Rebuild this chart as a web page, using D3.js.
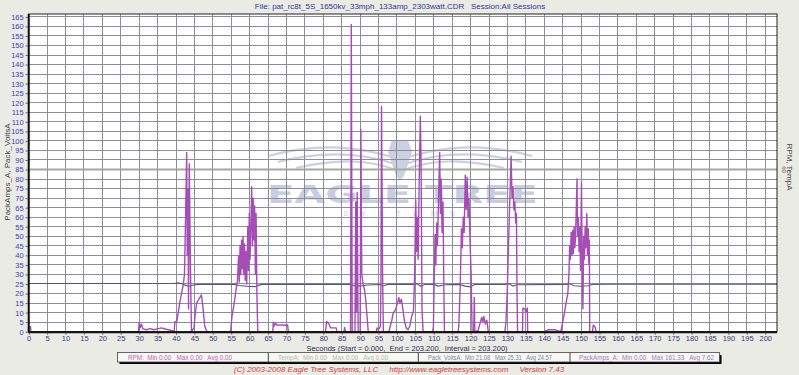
<!DOCTYPE html>
<html><head><meta charset="utf-8">
<script src="https://cdn.jsdelivr.net/npm/d3@7"></script>
<style>body{margin:0;background:#ebebe5;}svg{display:block;}text{font-family:"Liberation Sans",Arial,sans-serif;}</style>
</head><body>
<script>
// ---------- DATA ----------
const titleText = "File: pat_rc8t_5S_1650kv_33mph_133amp_2303watt.CDR   Session:All Sessions";
const xTicks = d3.range(0, 201, 5);
const yTicks = d3.range(0, 166, 5);
const rightTicks = ["60"];
const rightTickAt = [85];
// PackAmps_A : [seconds, amps]
const packAmps = [
 [0,0],[0.1,2.6],[0.5,2.6],[0.6,0],[29.8,0],[30,4.7],[30.3,2],[30.6,4],[31,1.5],[32,1],[33,1.6],[34,1],[35,1.5],[36,2],[37,1.4],[38,1],[39,0.5],[39.5,0],
 [39.7,5.2],[40.2,5],[40.6,10],[41,15],[41.5,20],[42,25],[42.3,30],[42.6,60],[42.9,94],[43.05,40],[43.25,75],[43.4,12],[43.6,88],[43.8,55],[43.95,30],[44.2,0],
 [44.9,2],[45.2,9],[45.6,15],[46.2,17],[46.9,19.3],[47.3,13],[47.8,3],[48.4,0],
 [54.8,0],[55.2,8],[55.8,15],[56.3,22],[56.7,27],[57,40],[57.2,26],[57.4,45],[57.6,30],[57.8,48],[58,33],[58.2,50],[58.4,30],[58.6,46],[58.8,27],[59,42],[59.2,25],[59.5,55],[59.7,32],[59.9,62],[60.1,38],[60.35,57],[60.55,76],[60.75,45],[60.95,70],[61.15,48],[61.35,66],[61.55,30],[61.75,62],[61.95,22],[62.2,0],
 [66.3,0],[66.4,5],[66.7,3],[67,4.5],[67.5,3.4],[68.5,3.6],[69.5,3.4],[70.3,3.5],[70.5,0],
 [80.6,0],[80.9,5.4],[81.5,4],[82,2],[83.5,2],[83.7,0],
 [85.6,0],[85.8,2.2],[86,0],[87.4,0],[87.6,161],[87.85,0],[88.6,0],[88.8,68],[89,10],[89.2,73],[89.45,0],[90,0],[90.2,106],[90.45,30],[90.8,25],[91.2,22],[91.5,17],[91.8,10],[92.2,0],
 [94.4,0],[94.6,2],[95,1],[95.5,3],[95.65,25],[95.8,118],[95.95,78],[96.1,30],[96.3,0],
 [97.8,0],[98.2,3],[98.6,6],[99,10],[99.5,11],[100,14],[100.5,18],[100.8,15],[101.2,17],[101.6,12],[102,6],[102.5,2],[103,1],[103.5,3],[104,8],[104.5,11],[104.8,30],[105.1,69],[105.3,42],[105.5,60],[105.75,38],[106.05,80],[106.35,113],[106.55,90],[106.8,12],[107.1,0],
 [109.7,0],[109.9,3],[110.1,26],[110.35,51],[110.55,35],[110.8,57],[111,45],[111.3,70],[111.6,94],[111.8,62],[112,80],[112.25,52],[112.5,68],[112.75,20],[112.9,0],
 [116.6,0],[116.8,3],[117.2,25],[117.5,54],[117.75,44],[118,60],[118.25,52],[118.55,82],[118.8,64],[119.05,81],[119.3,60],[119.55,70],[119.85,47],[120.15,30],[120.4,0],[120.85,0],[121,18],[121.15,0],
 [122,0.5],[122.5,4],[123,7.5],[123.3,5],[123.6,8],[124,4],[124.4,6],[124.8,0],
 [129.3,0],[129.6,5],[130,24],[130.5,60],[131,92],[131.25,70],[131.5,76],[131.75,64],[132,68],[132.25,57],[132.45,62],[132.6,20],[132.75,0],
 [134.1,0],[134.2,12.4],[134.7,12],[135,10.5],[135.4,12.4],[135.5,0],
 [140,0],[141,1],[143,1],[144.5,0],[145,5],[145.5,10],[146,16],[146.4,20],[146.7,30],[146.9,45],[147.1,38],[147.3,52],[147.5,40],[147.7,53],[147.9,41],[148.1,55],[148.3,44],[148.5,50],[148.9,80],[149.05,50],[149.25,60],[149.45,42],[149.65,55],[149.85,32],[150.1,78],[150.3,40],[150.5,12],[150.7,50],[150.9,38],[151.1,55],[151.3,44],[151.55,62],[151.75,40],[151.95,54],[152.1,36],[152.25,48],[152.35,0],
 [153.1,0],[153.3,3.5],[153.8,2.5],[154.1,0],[203.2,0]
];
// Pack_VoltsA : [seconds, volts]
const packVolts = [
 [0,25.3],[39.5,25.3],[40.5,25.6],[41.5,25.2],[42.5,24.4],[43.5,23.7],[44.5,24.3],[46,24.8],[56,24.8],[57,24.2],[60,23.7],[61.5,23.6],[62.5,24.4],[63.5,24.8],
 [87,24.8],[88,24.3],[90,23.9],[92,24.5],[95.5,24.7],[96.2,24.0],[97.5,24.8],[104.5,24.8],[105.3,25.2],[106.5,23.8],[107.5,24.7],[110,24.8],[111.2,23.9],[113,24.6],
 [117,24.8],[118.5,23.9],[120,23.5],[121,24.7],[129.5,24.8],[130.4,25.2],[131.5,23.9],[132.6,24.6],[146,24.8],[147,25.1],[148,24.1],[150,23.8],[152,24.1],[153,24.7],[157,24.9],[203.2,24.9]
];
const tempLine = [[0,85],[203.2,85]];
const legendItems = [
 {label:"RPM:  Min 0.00   Max 0.00   Avg 0.00", color:"#c75ac9"},
 {label:"TempA:  Min 0.00   Max 0.00   Avg 0.00", color:"#b4bba6"},
 {label:"Pack_VoltsA:  Min 21.08   Max 25.31   Avg 24.57", color:"#7a86a3"},
 {label:"PackAmps_A:  Min 0.00   Max 161.33   Avg 7.62", color:"#a27ac4"}
];
const xTitle = "Seconds (Start = 0.000,  End = 203.200,  Interval = 203.200)";
const leftTitle = "PackAmps_A, Pack_VoltsA";
const rightTitle = "RPM, TempA";
const copyright = "(C) 2003-2008 Eagle Tree Systems, LLC     http://www.eagletreesystems.com     Version 7.43";

// ---------- DRAW ----------
const W = 799, H = 375;
const svg = d3.select("body").append("svg").attr("width", W).attr("height", H);
svg.append("rect").attr("width", W).attr("height", H).attr("fill", "#ebebe5");

const x = d3.scaleLinear([0, 203.2], [28.7, 777]);
const y = d3.scaleLinear([0, 166.5], [331.7, 14]);

svg.append("rect").attr("x", x(0)).attr("y", y(166.5)).attr("width", x(203.2) - x(0)).attr("height", y(0) - y(166.5)).attr("fill", "#ffffff");

// watermark
const wm = svg.append("g").attr("fill", "none").attr("stroke", "#cdd0e0");
const wing = [
 "M268,156 C320,142 360,147 395,158","M278,162 C325,150 362,153 395,164","M296,168 C340,158 370,160 396,170",
 "M532,156 C480,142 440,147 405,158","M522,162 C475,150 438,153 405,164","M504,168 C460,158 430,160 404,170"];
wing.forEach(p => wm.append("path").attr("d", p).attr("stroke-width", 2.2));
svg.append("path").attr("d", "M392,140 L408,140 L412,152 L404,176 L400,180 L396,176 L388,152 Z").attr("fill", "#cdd0e0");
svg.append("text").attr("x", 267).attr("y", 203).attr("textLength", 271).attr("lengthAdjust", "spacingAndGlyphs")
  .attr("font-size", 25).attr("font-weight", 900).attr("fill", "#c9cde0").style("font-family", "'DejaVu Sans'").text("EAGLE TREE");
svg.append("text").attr("x", 343).attr("y", 216).attr("textLength", 112).attr("lengthAdjust", "spacing")
  .attr("font-size", 8).attr("fill", "#cdd0e0").text("SYSTEMS");

// grid
const grid = svg.append("g").attr("stroke", "#8c8c9e").attr("stroke-width", 1).attr("shape-rendering", "crispEdges");
xTicks.forEach(t => { if (t > 0) grid.append("line").attr("x1", x(t)).attr("x2", x(t)).attr("y1", y(166.5)).attr("y2", y(0)); });
yTicks.forEach(t => { if (t > 0) grid.append("line").attr("x1", x(0)).attr("x2", x(203.2)).attr("y1", y(t)).attr("y2", y(t)); });

const line = d3.line().x(d => x(d[0])).y(d => y(d[1]));
svg.append("path").datum(tempLine).attr("d", line).attr("fill", "none").attr("stroke", "#a7a79b").attr("stroke-width", 2);
svg.append("path").datum(packVolts).attr("d", line).attr("fill", "none").attr("stroke", "#56567a").attr("stroke-width", 1.1);
svg.append("path").datum(packAmps).attr("d", line).attr("fill", "none").attr("stroke", "#a54db5").attr("stroke-width", 1.4).attr("stroke-linejoin", "round");

// frame
svg.append("rect").attr("x", x(0)).attr("y", y(166.5)).attr("width", x(203.2) - x(0)).attr("height", y(0) - y(166.5))
  .attr("fill", "none").attr("stroke", "#222").attr("stroke-width", 1);
svg.append("line").attr("x1", x(0)).attr("x2", x(0)).attr("y1", y(166.5)).attr("y2", y(0) + 1).attr("stroke", "#111").attr("stroke-width", 2);
svg.append("line").attr("x1", x(0)).attr("x2", x(203.2)).attr("y1", y(0) + 0.5).attr("y2", y(0) + 0.5).attr("stroke", "#111").attr("stroke-width", 2);

// axes
const xAxis = d3.axisBottom(x).tickValues(xTicks).tickSize(2).tickPadding(1);
const gx = svg.append("g").attr("transform", `translate(0,${y(0) + 1})`).call(xAxis);
gx.select(".domain").remove();
gx.selectAll("line").attr("stroke", "#555");
gx.selectAll("text").attr("font-size", 7.5).attr("fill", "#3a3a78").style("font-family", "'Liberation Sans',Arial");

const yAxis = d3.axisLeft(y).tickValues(yTicks).tickSize(2).tickPadding(2);
const gy = svg.append("g").attr("transform", `translate(${x(0) - 1},0)`).call(yAxis);
gy.select(".domain").remove();
gy.selectAll("line").attr("stroke", "#555");
gy.selectAll("text").attr("font-size", 7.5).attr("fill", "#3c3cc8").style("font-family", "'Liberation Sans',Arial");

rightTicks.forEach((t, i) => {
  svg.append("text").attr("transform", `translate(782,${y(rightTickAt[i])}) rotate(90)`).attr("text-anchor", "middle")
    .attr("font-size", 6).attr("fill", "#555").text(t);
});

// titles
svg.append("text").attr("x", 400).attr("y", 8.5).attr("text-anchor", "middle").attr("font-size", 8).attr("fill", "#33339a").style("white-space", "pre").text(titleText);
svg.append("text").attr("x", 407).attr("y", 350.5).attr("text-anchor", "middle").attr("font-size", 7.5).attr("fill", "#2a2a50").style("white-space", "pre").text(xTitle);
svg.append("text").attr("transform", `translate(10,172) rotate(-90)`).attr("text-anchor", "middle").attr("font-size", 8).attr("fill", "#444").text(leftTitle);
svg.append("text").attr("transform", `translate(787,167) rotate(90)`).attr("text-anchor", "middle").attr("font-size", 8).attr("fill", "#444").text(rightTitle);
svg.append("text").attr("x", 399).attr("y", 372).attr("text-anchor", "middle").attr("font-size", 8).attr("font-style", "italic").attr("fill", "#d03a3a").style("white-space", "pre").text(copyright);

// legend
const lx = [117.5, 268.3, 418.3, 570, 719.5];
const textStart = [128, 278, 428, 579];
const textLen = [104, 110, 124, 135];
const lg = svg.append("g");
lg.append("rect").attr("x", lx[0] + 2).attr("y", 355).attr("width", lx[4] - lx[0]).attr("height", 9).attr("fill", "#000");
lg.append("rect").attr("x", lx[0]).attr("y", 352.5).attr("width", lx[4] - lx[0]).attr("height", 9.5).attr("fill", "#f7f7f4").attr("stroke", "#444").attr("stroke-width", 0.8);
legendItems.forEach((d, i) => {
  if (i > 0) lg.append("line").attr("x1", lx[i]).attr("x2", lx[i]).attr("y1", 352.5).attr("y2", 362).attr("stroke", "#444");
  lg.append("text").attr("x", textStart[i]).attr("y", 360.3).attr("font-size", 7.5).attr("fill", d.color)
    .attr("textLength", textLen[i]).attr("lengthAdjust", "spacingAndGlyphs").style("white-space", "pre").text(d.label);
});
</script>
</body></html>
